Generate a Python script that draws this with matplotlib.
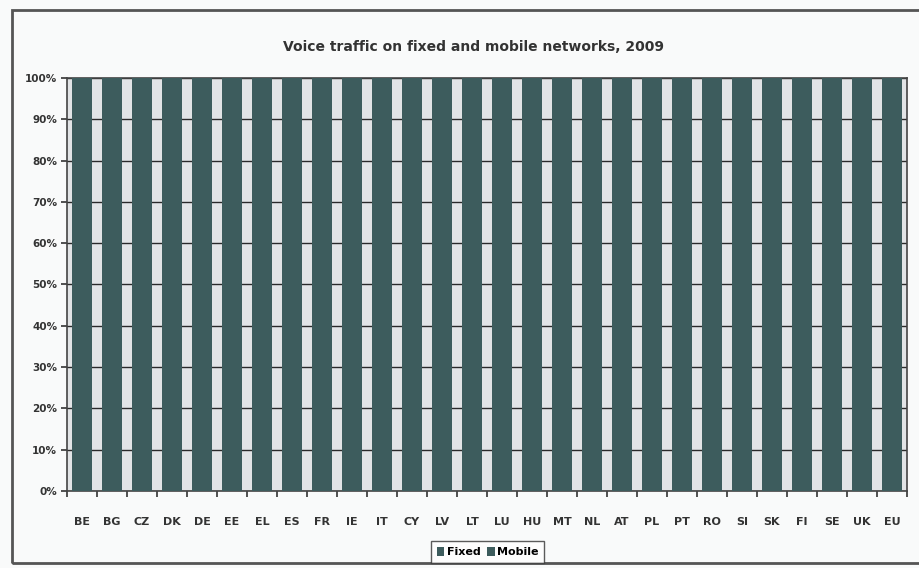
import matplotlib.pyplot as plt
import numpy as np
from matplotlib.patches import Rectangle, Patch

countries = ['BE', 'BG', 'CZ', 'DK', 'DE', 'EE', 'EL', 'ES', 'FR', 'IE', 'IT', 'CY', 'LV', 'LT',
             'LU', 'HU', 'MT', 'NL', 'AT', 'PL', 'PT', 'RO', 'SI', 'SK', 'FI', 'SE', 'UK', 'EU']
# share of voice minutes (%) - the scan does not separate the two series
fixed = [45, 20, 15, 35, 55, 20, 35, 35, 50, 45, 35, 40, 15, 15,
         40, 25, 40, 45, 25, 25, 25, 15, 35, 20, 15, 40, 45, 40]
mobile = [55, 80, 85, 65, 45, 80, 65, 65, 50, 55, 65, 60, 85, 85,
          60, 75, 60, 55, 75, 75, 75, 85, 65, 80, 85, 60, 55, 60]
yticks = [0, 10, 20, 30, 40, 50, 60, 70, 80, 90, 100]

bar_col = '#3d5c5d'
bg_col = '#e2e4e6'

fig = plt.figure(figsize=(9.2, 5.68), dpi=100)
fig.patch.set_facecolor('#f9fafa')
ax = fig.add_axes([0.0728, 0.1356, 0.913, 0.7271])
ax.set_facecolor(bg_col)

x = np.arange(len(countries))
ax.bar(x, fixed, width=0.67, color=bar_col, linewidth=0, zorder=3, label='Fixed')
ax.bar(x, mobile, bottom=fixed, width=0.67, color=bar_col, linewidth=0, zorder=3, label='Mobile')

ax.set_xlim(-0.5, len(countries) - 0.5)
ax.set_ylim(0, 100)
ax.set_yticks(yticks)
ax.set_yticklabels(['%d%%' % v for v in yticks], fontsize=7.5, fontweight='bold', color='#333333')
ax.yaxis.grid(True, color='#2a2a2a', linewidth=1.0, zorder=1)
ax.set_axisbelow(True)

ax.set_xticks(x)
ax.set_xticklabels(countries, fontsize=8, fontweight='bold', color='#333333')
ax.set_xticks(np.arange(-0.5, len(countries), 1), minor=True)
ax.tick_params(axis='x', which='major', length=0, pad=19)
ax.tick_params(axis='x', which='minor', length=4, width=1.2, color='#333333')
ax.tick_params(axis='y', length=4, width=1.2, color='#333333', pad=3)
for s in ax.spines.values():
    s.set_color('#444444')
    s.set_linewidth(1.2)

fig.text(0.515, 0.917, 'Voice traffic on fixed and mobile networks, 2009', ha='center', va='center',
         fontsize=10, fontweight='bold', color='#333333')

handles = [Patch(facecolor=bar_col, label='Fixed'), Patch(facecolor=bar_col, label='Mobile')]
fig.legend(handles=handles, loc='center', bbox_to_anchor=(0.53, 0.028), ncol=2, frameon=True,
           handlelength=0.7, handleheight=0.9, handletextpad=0.2, columnspacing=0.6,
           borderpad=0.5, fancybox=False, edgecolor='#333333', prop={'weight': 'bold', 'size': 8})

fig.patches.append(Rectangle((12 / 920, 1 - 563 / 568), 930 / 920, 553 / 568,
                             transform=fig.transFigure, fill=False, edgecolor='#555555', linewidth=2))

fig.savefig('out.png', dpi=100, facecolor=fig.get_facecolor())
